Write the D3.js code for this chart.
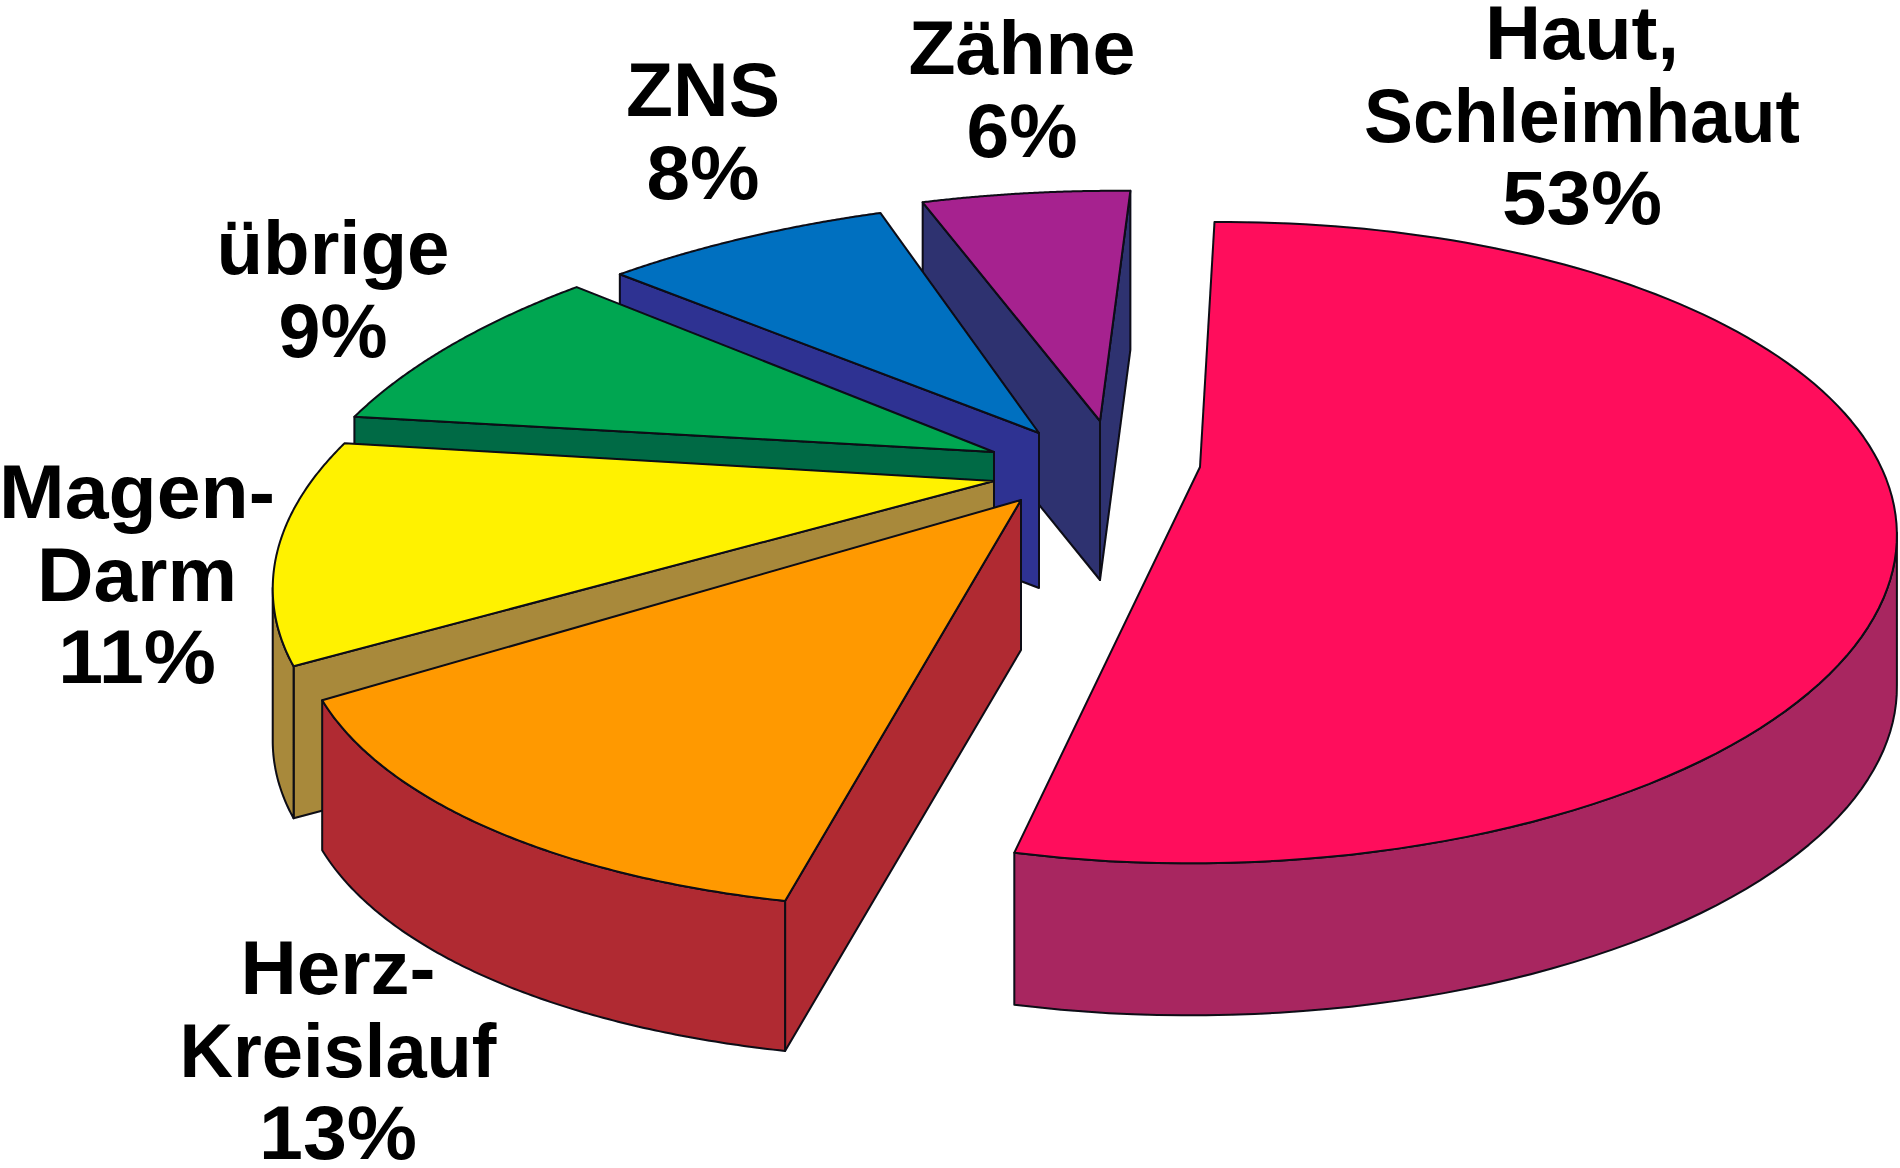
<!DOCTYPE html>
<html><head><meta charset="utf-8"><style>html,body{margin:0;background:#fff;overflow:hidden}</style>
<script src="https://cdnjs.cloudflare.com/ajax/libs/d3/7.8.5/d3.min.js"></script></head><body><script>
const categories=["Haut, Schleimhaut","Herz-Kreislauf","Magen-Darm","übrige","ZNS","Zähne"];
const shares=[53,13,11,9,8,6];
const labelLines=[["Haut,","Schleimhaut","53%"],["Herz-","Kreislauf","13%"],["Magen-","Darm","11%"],["übrige","9%"],["ZNS","8%"],["Zähne","6%"]];
const lineWidths=[[194,436,160],[195,317,158],[276,200,158],[233,109],[154,113],[227,111]];
const topColors=["#ff0f5c","#ff9900","#fff200","#00a651","#0070c0","#a6228f"];
const sideColors=["#a82860","#b02a30","#a8893a","#006b45","#2e3192","#2e3270"];
const apexScreen=[[1200,467],[1021,500],[994,481],[994,452],[1039,433],[1100,421]];
const sliceDepth=[152,150,152,152,155,159];
const sliceWarp=[[1,0,0,1],[1.052,.0555,-.0503,.9516],[1.0609,.0312,-.0253,.9938],[1.0693,.02,-.0282,1.0214],[1.0832,-.0118,-.0241,1.0051],[1.0837,.0224,-.006,1.0044]];
const labelPos=[[1582,59],[338,994],[137,518],[333,274],[703,116],[1022,74]];
const W=1900,H=1168,S=1.2117;
const views=[{a:537,b:-248.5,d:-6.2,e:158.8,g:-.016,h:-.236},{a:518,b:-255,d:4,e:158,g:-.027,h:-.2427}];
const svg=d3.select("body").append("svg").attr("width",W).attr("height",H);
svg.append("filter").attr("id","soft").append("feGaussianBlur").attr("stdDeviation",.7);
const root=svg.append("g").attr("filter","url(#soft)");
const arcs=d3.pie().sort(null).value(d=>d)(shares);
const c0=990*S,c1=385*S;
const projector=v=>(x,y)=>{const w=1+v.g*x+v.h*y;return [(c0+S*(v.a*x+v.b*y))/w,(c1+S*(v.d*x+v.e*y))/w]};
function invert(v,p){const [X,Y]=p,A=[[S*v.a-v.g*X,S*v.b-v.h*X],[S*v.d-v.g*Y,S*v.e-v.h*Y]],r=[X-c0,Y-c1],D=A[0][0]*A[1][1]-A[0][1]*A[1][0];
 return [(r[0]*A[1][1]-r[1]*A[0][1])/D,(A[0][0]*r[1]-A[1][0]*r[0])/D]}
const line=d3.line();
[5,4,3,2,1,0].forEach(i=>{
 const s=arcs[i],v=views[i===0?0:1],proj=projector(v),o=invert(v,apexScreen[i]),ap=proj(o[0],o[1]),m=sliceWarp[i];
 const warp=p=>{const dx=p[0]-ap[0],dy=p[1]-ap[1];return [ap[0]+m[0]*dx+m[1]*dy,ap[1]+m[2]*dx+m[3]*dy]};
 const pts=d3.range(0,121).map(k=>{const t=s.startAngle+(s.endAngle-s.startAngle)*k/120;return warp(proj(o[0]+Math.sin(t),o[1]-Math.cos(t)))});
 const dn=p=>[p[0],p[1]+sliceDepth[i]];
 const gs=root.append("g").attr("stroke","#0a0a14").attr("stroke-width",2).attr("stroke-linejoin","round");
 const quad=(p,q)=>{if(q[0]<p[0])gs.append("path").attr("fill",sideColors[i]).attr("d",line([p,q,dn(q),dn(p)])+"Z")};
 quad(ap,pts[0]);quad(pts[120],ap);
 const front=pts.filter((p,k)=>(k<120&&pts[k+1][0]<p[0])||(k>0&&p[0]<pts[k-1][0]));
 if(front.length>1)gs.append("path").attr("fill",sideColors[i]).attr("d",line(front.concat(front.map(dn).reverse()))+"Z");
 gs.append("path").attr("fill",topColors[i]).attr("d",line([ap,...pts])+"Z");
});
labelLines.forEach((l,i)=>{const t=root.append("text").attr("text-anchor","middle").attr("font-family","Liberation Sans").attr("font-weight",700).attr("font-size",76).attr("fill","#000");
 l.forEach((s,k)=>t.append("tspan").attr("x",labelPos[i][0]).attr("y",labelPos[i][1]+k*82.5).attr("textLength",lineWidths[i][k]).attr("lengthAdjust","spacingAndGlyphs").text(s));});
</script></body></html>
